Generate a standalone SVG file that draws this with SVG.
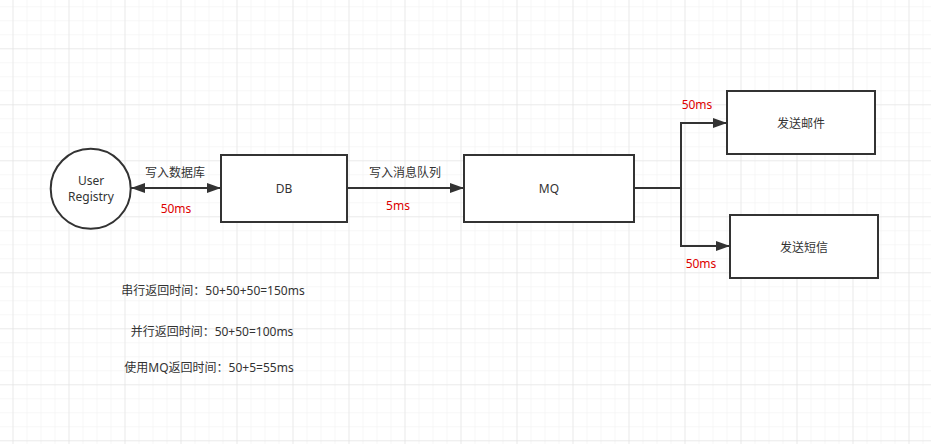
<svg xmlns="http://www.w3.org/2000/svg" width="931" height="444" viewBox="0 0 931 444">
  <style>
    .shape { fill: #ffffff; stroke: #333333; stroke-width: 2; }
    .edge { fill: none; stroke: #333333; stroke-width: 2; }
    .t { font-family: "Noto Sans", "Noto Sans CJK SC", sans-serif; font-size: 12px; fill: #333333; text-anchor: middle; dominant-baseline: central; }
    .red { fill: #dd0000; }
  </style>
  <defs>
    <pattern id="minor" x="12.5" y="6.3" width="14" height="14" patternUnits="userSpaceOnUse">
      <path d="M 0 0 L 14 0 M 0 0 L 0 14" fill="none" stroke="#f0f0f0" stroke-width="1"/>
    </pattern>
    <pattern id="major" x="12.5" y="48.3" width="56" height="56" patternUnits="userSpaceOnUse">
      <path d="M 0 0 L 56 0 M 0 0 L 0 56" fill="none" stroke="#e0e0e0" stroke-width="1"/>
    </pattern>
    <marker id="arrowEnd" markerWidth="14" markerHeight="10" refX="14" refY="5" orient="auto" markerUnits="userSpaceOnUse">
      <path d="M 0 0 L 14 5 L 0 10 Z" fill="#333333"/>
    </marker>
    <marker id="arrowStart" markerWidth="14" markerHeight="10" refX="0" refY="5" orient="auto" markerUnits="userSpaceOnUse">
      <path d="M 14 0 L 0 5 L 14 10 Z" fill="#333333"/>
    </marker>
  </defs>
  <rect width="931" height="444" fill="#ffffff"/>
  <rect width="931" height="444" fill="url(#minor)"/>
  <rect width="931" height="444" fill="url(#major)"/>

  <g id="connectors">
    <line class="edge" x1="131" y1="188" x2="221" y2="188" marker-start="url(#arrowStart)" marker-end="url(#arrowEnd)"/>
    <line class="edge" x1="347" y1="188" x2="464" y2="188" marker-end="url(#arrowEnd)"/>
    <path class="edge" d="M 634 188 L 681 188 L 681 123 L 727 123" marker-end="url(#arrowEnd)"/>
    <path class="edge" d="M 681 188 L 681 246 L 730 246" marker-end="url(#arrowEnd)"/>
    <text class="t" x="175" y="172">写入数据库</text>
    <text class="t red" x="176" y="208">50ms</text>
    <text class="t" x="405" y="172">写入消息队列</text>
    <text class="t red" x="398" y="205">5ms</text>
    <text class="t red" x="697" y="104">50ms</text>
    <text class="t red" x="701" y="263">50ms</text>
  </g>

  <g id="user-registry">
    <circle class="shape" cx="90.7" cy="188.8" r="40"/>
    <text class="t" x="91" y="180.5">User</text>
    <text class="t" x="91" y="196.5">Registry</text>
  </g>
  <g id="db">
    <rect class="shape" x="221" y="155" width="126" height="67"/>
    <text class="t" x="284" y="188">DB</text>
  </g>
  <g id="mq">
    <rect class="shape" x="464" y="155" width="170" height="67"/>
    <text class="t" x="549" y="188">MQ</text>
  </g>
  <g id="email">
    <rect class="shape" x="727" y="91" width="148" height="63"/>
    <text class="t" x="801" y="123">发送邮件</text>
  </g>
  <g id="sms">
    <rect class="shape" x="730" y="215" width="148" height="63"/>
    <text class="t" x="804" y="247">发送短信</text>
  </g>

  <g id="notes">
    <text class="t" x="213" y="290">串行返回时间：50+50+50=150ms</text>
    <text class="t" x="212" y="331">并行返回时间：50+50=100ms</text>
    <text class="t" x="209" y="367">使用MQ返回时间：50+5=55ms</text>
  </g>
</svg>
